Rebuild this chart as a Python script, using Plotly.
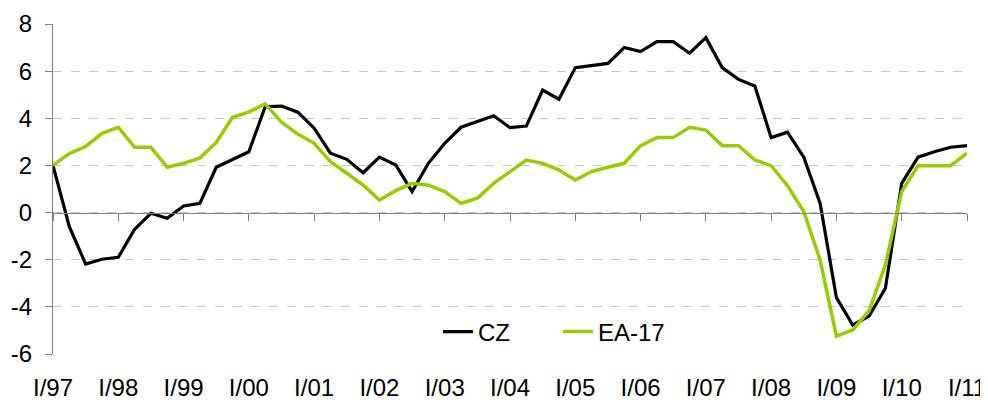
import plotly.graph_objects as go

years = ["97", "98", "99", "00", "01", "02", "03", "04", "05", "06", "07", "08", "09", "10", "11"]
roman = ["I", "II", "III", "IV"]
quarters = [f"{r}/{y}" for y in years for r in roman][:57]
year_ticks = [f"I/{y}" for y in years]

cz = [2.0, -0.6, -2.18, -1.98, -1.9, -0.71, -0.03, -0.24, 0.28, 0.39,
      1.92, 2.26, 2.58, 4.49, 4.52, 4.26, 3.58, 2.52, 2.26, 1.69,
      2.35, 2.02, 0.89, 2.09, 2.94, 3.62, 3.86, 4.11, 3.6, 3.67,
      5.2, 4.81, 6.15, 6.23, 6.33, 7.0, 6.83, 7.25, 7.25, 6.76,
      7.42, 6.15, 5.65, 5.37, 3.18, 3.41, 2.35, 0.39, -3.61, -4.77,
      -4.39, -3.21, 1.24, 2.35, 2.58, 2.77, 2.84]
ea17 = [2.0, 2.5, 2.8, 3.36, 3.62, 2.77, 2.77, 1.92, 2.09, 2.32,
        2.97, 4.04, 4.26, 4.61, 3.83, 3.33, 2.94, 2.16, 1.67, 1.17,
        0.53, 0.93, 1.24, 1.16, 0.89, 0.39, 0.61, 1.24, 1.74, 2.23,
        2.09, 1.81, 1.38, 1.74, 1.92, 2.09, 2.84, 3.18, 3.18, 3.62,
        3.5, 2.84, 2.84, 2.23, 1.99, 1.14, 0.04, -2.01, -5.24, -4.98,
        -4.17, -2.22, 0.89, 1.99, 1.99, 1.99, 2.52]
y_ticks = [-6, -4, -2, 0, 2, 4, 6, 8]

FONT = "Liberation Sans, Arial, sans-serif"
GRAY = "#808080"
FS = 24

fig = go.Figure()
# hidden helper trace to carry the zero-line axis with year ticks
fig.add_trace(go.Scatter(x=quarters, y=cz, xaxis="x2", mode="lines",
                         line=dict(color="rgba(0,0,0,0)", width=0),
                         showlegend=False, hoverinfo="skip"))
fig.add_trace(go.Scatter(x=quarters, y=cz, name="CZ", mode="lines",
                         line=dict(color="#000000", width=3.2)))
fig.add_trace(go.Scatter(x=quarters, y=ea17, name="EA-17", mode="lines",
                         line=dict(color="#99cc00", width=3.5)))

ymin, ymax = -6, 8
fig.update_layout(
    width=988, height=400,
    margin=dict(l=45, r=29, t=16, b=54, autoexpand=False),
    paper_bgcolor="white", plot_bgcolor="white",
    font=dict(family=FONT, size=FS, color="#000000"),
    xaxis=dict(type="category", categoryorder="array", categoryarray=quarters,
               range=[0, len(quarters) - 1], tickmode="array",
               tickvals=year_ticks, ticktext=year_ticks, automargin=False,
               showgrid=False, zeroline=False, showline=False,
               ticks="outside", ticklen=10, tickcolor="rgba(0,0,0,0)",
               ticklabelstandoff=2,
               tickfont=dict(size=FS, family=FONT)),
    xaxis2=dict(type="category", categoryorder="array", categoryarray=quarters,
                overlaying="x", anchor="free", automargin=False,
                position=(0 - ymin) / (ymax - ymin),
                range=[0, len(quarters) - 1], tickmode="array",
                tickvals=year_ticks, showticklabels=False,
                showgrid=False, zeroline=False, showline=True,
                linecolor=GRAY, linewidth=1.2,
                ticks="outside", ticklen=7, tickcolor=GRAY, tickwidth=1.2),
    yaxis=dict(range=[ymin, ymax], tickvals=y_ticks, ticktext=[str(v) for v in y_ticks],
               automargin=False,
               showgrid=True, gridcolor="#c8c8c8", griddash="dash", gridwidth=1,
               zeroline=False, showline=True, linecolor=GRAY, linewidth=1.2,
               ticks="outside", ticklen=7, tickcolor=GRAY, tickwidth=1.2,
               ticklabelstandoff=8,
               tickfont=dict(size=FS, family=FONT)),
    legend=dict(orientation="h", x=(438 - 53) / 914, xanchor="left",
                y=(354 - 332) / 330, yanchor="middle",
                bgcolor="rgba(0,0,0,0)", font=dict(size=FS, family=FONT),
                entrywidth=75, entrywidthmode="pixels", itemwidth=30),
    showlegend=True,
)

fig.write_html("out.html")
